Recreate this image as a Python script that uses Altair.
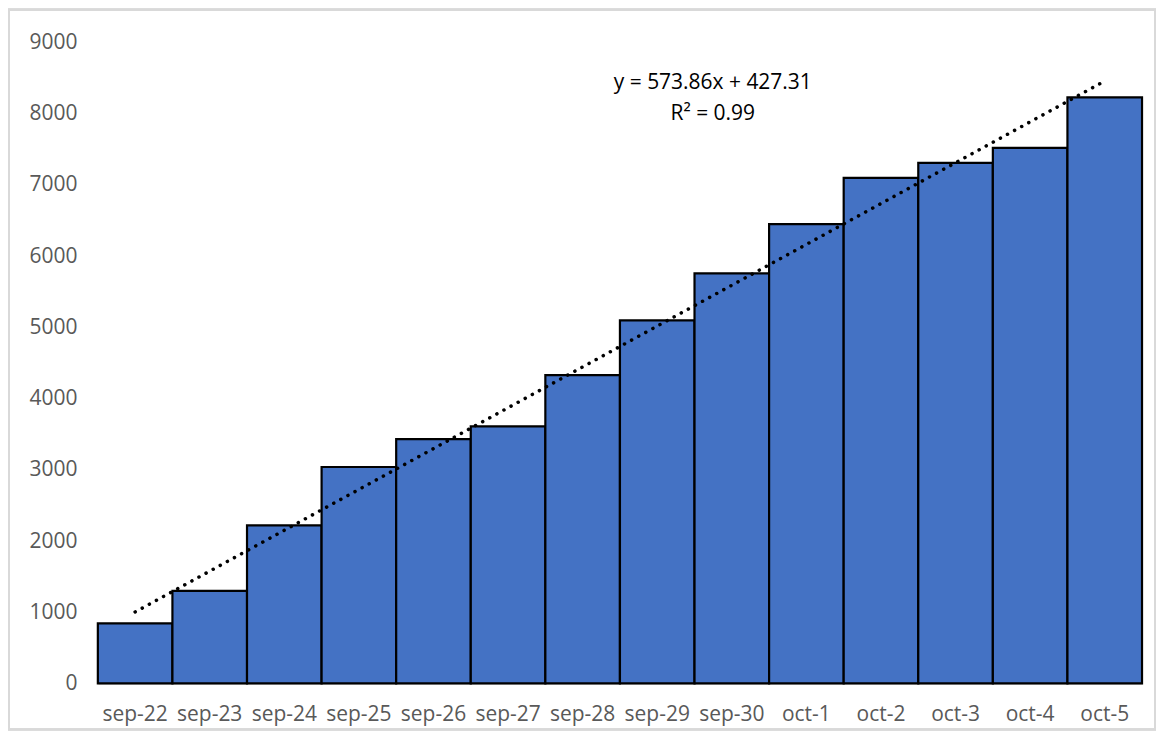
import altair as alt
import pandas as pd

days = ["sep-22", "sep-23", "sep-24", "sep-25", "sep-26", "sep-27", "sep-28",
        "sep-29", "sep-30", "oct-1", "oct-2", "oct-3", "oct-4", "oct-5"]
values = [845, 1300, 2220, 3040, 3430, 3610, 4330, 5100, 5760, 6450, 7100, 7310, 7520, 8230]
index = list(range(1, len(days) + 1))
y_ticks = [0, 1000, 2000, 3000, 4000, 5000, 6000, 7000, 8000, 9000]
trend_label = ["y = 573.86x + 427.31", "R² = 0.99"]

df = pd.DataFrame({"day": days, "value": values, "idx": index})

W, H = 1046, 642
FONT = "Open Sans"
LABEL_COLOR = "#595959"
FS = 21

frame = alt.Chart(df).mark_rect(filled=False, stroke="#D9D9D9", strokeWidth=2).encode(
    x=alt.value(-89), x2=alt.value(W + 13), y=alt.value(-33), y2=alt.value(H + 46)
)

bars = alt.Chart(df).mark_bar(color="#4472C4", stroke="black", strokeWidth=2.2).encode(
    x=alt.X("day:N", sort=days, title=None,
            scale=alt.Scale(paddingInner=0, paddingOuter=0),
            axis=alt.Axis(labelAngle=0, labelFont=FONT, labelFontSize=FS, labelColor=LABEL_COLOR,
                          ticks=False, domainColor="#D9D9D9", domainWidth=2, labelPadding=20)),
    y=alt.Y("value:Q", title=None,
            scale=alt.Scale(domain=[0, 9000], nice=False),
            axis=alt.Axis(values=y_ticks, format="d", grid=False, domain=False, ticks=False,
                          labelFont=FONT, labelFontSize=FS, labelColor=LABEL_COLOR, labelPadding=21))
)

trend = alt.Chart(df).transform_regression("idx", "value", method="linear").mark_line(
    color="black", strokeWidth=3.5, strokeDash=[0.1, 8], strokeCap="round"
).encode(
    x=alt.X("idx:Q", scale=alt.Scale(domain=[0.5, len(days) + 0.5], nice=False, zero=False), axis=None),
    y=alt.Y("value:Q")
)

eq = alt.Chart(pd.DataFrame({"t": [trend_label[0]]})).mark_text(
    font=FONT, fontSize=FS, color="black", align="center", baseline="middle"
).encode(x=alt.value(616), y=alt.value(41), text="t:N")

r2 = alt.Chart(pd.DataFrame({"t": [trend_label[1]]})).mark_text(
    font=FONT, fontSize=FS, color="black", align="center", baseline="middle"
).encode(x=alt.value(616), y=alt.value(72), text="t:N")

chart = alt.layer(frame, bars, trend, eq, r2).resolve_scale(x="independent").properties(
    width=W, height=H, background="white",
    padding={"left": 90, "top": 34, "right": 14, "bottom": 48},
    autosize=alt.AutoSizeParams(type="none")
).configure_view(strokeWidth=0, stroke="transparent")

chart.save("out.html", embed_options={"renderer": "svg", "actions": False})
